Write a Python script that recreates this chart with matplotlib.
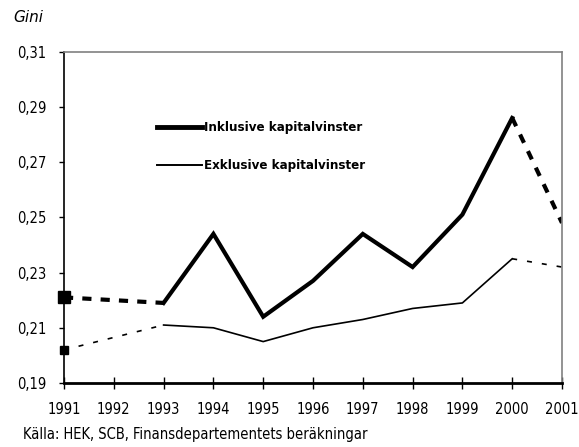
import matplotlib
matplotlib.use("Agg")
import matplotlib.pyplot as plt
from matplotlib.ticker import FuncFormatter
from matplotlib.lines import Line2D

plt.rcParams['font.family'] = ['DejaVu Sans']
plt.rcParams['font.stretch'] = 'condensed'

# data (1992 saknas)
years = [1991, 1993, 1994, 1995, 1996, 1997, 1998, 1999, 2000, 2001]
inkl = [0.221, 0.219, 0.244, 0.214, 0.227, 0.244, 0.232, 0.251, 0.286, 0.248]
exkl = [0.202, 0.211, 0.210, 0.205, 0.210, 0.213, 0.217, 0.219, 0.235, 0.232]
year_ticks = list(range(1991, 2002))
gini_ticks = [0.19, 0.21, 0.23, 0.25, 0.27, 0.29, 0.31]

fig = plt.figure(figsize=(5.79, 4.47), dpi=100)
ax = fig.add_axes([64/579, 1-383/447, (562-64)/579, (383-51.7)/447])

# inklusive: streckat 1991-1993 och 2000-2001
ax.plot(years[:2], inkl[:2], color='black', lw=3, dashes=(2.2, 2.2))
ax.plot(years[1:9], inkl[1:9], color='black', lw=3, solid_joinstyle='miter')
ax.plot(years[8:], inkl[8:], color='black', lw=3, dashes=(2.2, 2.2))
ax.plot(years[0], inkl[0], 's', color='black', ms=8, clip_on=False)

# exklusive
ax.plot(years[:2], exkl[:2], color='black', lw=1.2, dashes=(3, 6))
ax.plot(years[1:9], exkl[1:9], color='black', lw=1.2)
ax.plot(years[8:], exkl[8:], color='black', lw=1.2, dashes=(3, 6))
ax.plot(years[0], exkl[0], 's', color='black', ms=6, clip_on=False)

ax.set_xlim(1991, 2001)
ax.set_ylim(0.19, 0.31)
ax.set_xticks(year_ticks)
ax.set_yticks(gini_ticks)
ax.yaxis.set_major_formatter(FuncFormatter(lambda v, p: f'{v:.2f}'.replace('.', ',')))

for s in ['top', 'right']:
    ax.spines[s].set_color('#808080')
    ax.spines[s].set_linewidth(1.2)
ax.spines['left'].set_linewidth(1.2)
ax.spines['bottom'].set_linewidth(2)

ax.tick_params(axis='y', direction='out', length=3.5, width=1, labelsize=10.5, pad=9)
ax.tick_params(axis='x', direction='inout', length=8, width=1, labelsize=10.5, pad=10)

handles = [Line2D([], [], color='black', lw=3.5),
           Line2D([], [], color='black', lw=1.4)]
ax.legend(handles, ['Inklusive kapitalvinster', 'Exklusive kapitalvinster'],
          loc='upper left', bbox_to_anchor=(0.187, 0.79), frameon=False,
          borderpad=0, borderaxespad=0, handlelength=3.4, handletextpad=0.15,
          labelspacing=1.9, prop={'weight': 'bold', 'size': 9.5})

fig.text(13/579, 1-17/447, 'Gini', style='italic', family='DejaVu Sans',
         stretch='normal', fontsize=11, va='center', ha='left')
fig.text(23/579, 1-434/447, 'Källa: HEK, SCB, Finansdepartementets beräkningar',
         fontsize=10.5, va='center', ha='left')

fig.savefig('out.png', dpi=100)
